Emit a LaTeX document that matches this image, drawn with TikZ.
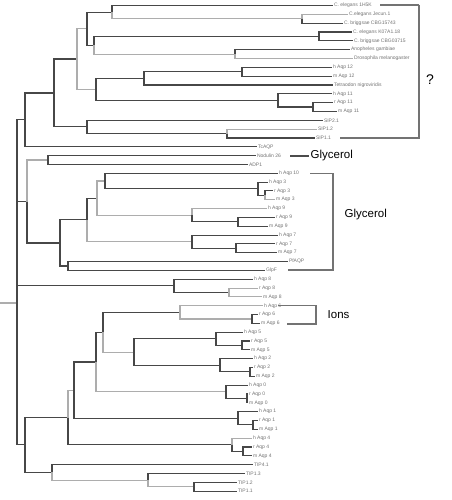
\documentclass[tikz,border=0pt]{standalone}
\usepackage{fontspec}
\setmainfont{Liberation Sans}
\begin{document}
\begin{tikzpicture}[x=1pt,y=-1pt,
  dk/.style={draw=black!72, line width=1.1pt},
  lt/.style={draw=black!32, line width=1.1pt},
  lab/.style={font=\fontsize{5}{6}\selectfont, text=black!55, anchor=west, inner sep=0.8pt},
  brk/.style={draw=black!55, line width=1.1pt},
  big/.style={font=\fontsize{11.5}{13}\selectfont, anchor=west, inner sep=1.5pt}]
\useasboundingbox (0,0) rectangle (451,500);
% leaves
\node[lab] (L1) at (333,5.5) {C. elegans 1H5K};
\node[lab] (L2) at (348,14.33) {C.elegans Jecun.1};
\node[lab] (L3) at (343,23.16) {C. briggsae CBG15743};
\node[lab] (L4) at (352,31.99) {C. elegans K07A1.18};
\node[lab] (L5) at (353,40.82) {C. briggsae CBG03715};
\node[lab] (L6) at (350,49.65) {Anopheles gambiae};
\node[lab] (L7) at (353,58.48) {Drosophila melanogaster};
\node[lab] (L8) at (332,67.31) {h Aqp 12};
\node[lab] (L9) at (332,76.14) {m Aqp 12};
\node[lab] (L10) at (333,84.97) {Tetraodon nigroviridis};
\node[lab] (L11) at (332,93.8) {h Aqp 11};
\node[lab] (L12) at (333,102.63) {r Aqp 11};
\node[lab] (L13) at (337,111.46) {m Aqp 11};
\node[lab] (L14) at (323,120.29) {SIP2.1};
\node[lab] (L15) at (317,129.12) {SIP1.2};
\node[lab] (L16) at (315,137.95) {SIP1.1};
\node[lab] (L17) at (257,146.78) {TcAQP};
\node[lab] (L18) at (256,155.61) {Nodulin 26};
\node[lab] (L19) at (248,164.44) {ADP1};
\node[lab] (L20) at (278,173.27) {h Aqp 10};
\node[lab] (L21) at (268,182.1) {h Aqp 3};
\node[lab] (L22) at (273,190.93) {r Aqp 3};
\node[lab] (L23) at (275,199.76) {m Aqp 3};
\node[lab] (L24) at (267,208.59) {h Aqp 9};
\node[lab] (L25) at (275,217.42) {r Aqp 9};
\node[lab] (L26) at (268,226.25) {m Aqp 9};
\node[lab] (L27) at (278,235.08) {h Aqp 7};
\node[lab] (L28) at (275,243.91) {r Aqp 7};
\node[lab] (L29) at (277,252.74) {m Aqp 7};
\node[lab] (L30) at (288,261.57) {PfAQP};
\node[lab] (L31) at (265,270.4) {GlpF};
\node[lab] (L32) at (253,279.23) {h Aqp 8};
\node[lab] (L33) at (258,288.06) {r Aqp 8};
\node[lab] (L34) at (262,296.89) {m Aqp 8};
\node[lab] (L35) at (263,305.72) {h Aqp 6};
\node[lab] (L36) at (258,314.55) {r Aqp 6};
\node[lab] (L37) at (260,323.38) {m Aqp 6};
\node[lab] (L38) at (243,332.21) {h Aqp 5};
\node[lab] (L39) at (250,341.04) {r Aqp 5};
\node[lab] (L40) at (250,349.87) {m Aqp 5};
\node[lab] (L41) at (253,358.7) {h Aqp 2};
\node[lab] (L42) at (253,367.53) {r Aqp 2};
\node[lab] (L43) at (255,376.36) {m Aqp 2};
\node[lab] (L44) at (248,385.19) {h Aqp 0};
\node[lab] (L45) at (248,394.02) {r Aqp 0};
\node[lab] (L46) at (248,402.85) {m Aqp 0};
\node[lab] (L47) at (258,411.68) {h Aqp 1};
\node[lab] (L48) at (258,420.51) {r Aqp 1};
\node[lab] (L49) at (258,429.34) {m Aqp 1};
\node[lab] (L50) at (252,438.17) {h Aqp 4};
\node[lab] (L51) at (252,447.0) {r Aqp 4};
\node[lab] (L52) at (252,455.83) {m Aqp 4};
\node[lab] (L53) at (253,464.66) {TIP4.1};
\node[lab] (L54) at (245,473.49) {TIP1.3};
\node[lab] (L55) at (237,482.32) {TIP1.2};
\node[lab] (L56) at (237,491.15) {TIP1.1};
% internal nodes
\coordinate (r0) at (0,303);
\coordinate (nJ) at (17,303);
\coordinate (n23) at (302,18.75);
\coordinate (nA) at (112,12.1);
\coordinate (n45) at (319,36.4);
\coordinate (n67) at (235,54.07);
\coordinate (nB) at (94,45.2);
\coordinate (nC) at (87,28.7);
\coordinate (n89) at (242,71.7);
\coordinate (nD) at (144,78.3);
\coordinate (n1213) at (313,107.05);
\coordinate (n11) at (278,100.4);
\coordinate (nE) at (96,89.4);
\coordinate (nF) at (77,59.0);
\coordinate (n1516) at (227,133.5);
\coordinate (nG) at (87,126.9);
\coordinate (nH) at (54,93.0);
\coordinate (nI) at (25,119.9);
\coordinate (n1819) at (48,160.0);
\coordinate (n2223) at (265,195.3);
\coordinate (nS) at (258,188.7);
\coordinate (nR) at (105,181.0);
\coordinate (n2526) at (238,221.8);
\coordinate (n24) at (192,215.2);
\coordinate (nQ) at (97,198.1);
\coordinate (n2829) at (236,248.3);
\coordinate (n27) at (192,241.7);
\coordinate (nO) at (87,219.9);
\coordinate (nP) at (68,266.0);
\coordinate (nN) at (60,243.0);
\coordinate (nK) at (27,201.5);
\coordinate (n3334) at (229,292.5);
\coordinate (n32) at (174,285.9);
\coordinate (n3637) at (252,319.0);
\coordinate (n35) at (180,312.3);
\coordinate (n3940) at (242,345.5);
\coordinate (n38) at (216,338.8);
\coordinate (n4243) at (250,371.9);
\coordinate (n41) at (220,365.3);
\coordinate (nZ) at (134,352.1);
\coordinate (nY) at (103,332.2);
\coordinate (n4546) at (247,398.4);
\coordinate (n44) at (226,391.8);
\coordinate (nX) at (96,362.0);
\coordinate (n4849) at (253,424.9);
\coordinate (n47) at (238,418.3);
\coordinate (nW) at (74,390.2);
\coordinate (n5152) at (243,451.4);
\coordinate (n50) at (232,444.8);
\coordinate (nU) at (68,417.5);
\coordinate (n5556) at (194,486.7);
\coordinate (nAA) at (148,480.1);
\coordinate (nV) at (52,472.4);
\coordinate (nL) at (25,444.9);
% edges
\draw[lt] (r0) -- (nJ);
\draw[dk] (nJ) |- (nI);
\draw[dk] (nJ) |- (nK);
\draw[dk] (nJ) |- (n32);
\draw[dk] (nJ) |- (nL);
\draw[dk] (nI) |- (nH);
\draw[dk] (nI) |- (L17.west);
\draw[dk] (nH) |- (nF);
\draw[dk] (nH) |- (nG);
\draw[lt] (nF) |- (nC);
\draw[lt] (nF) |- (nE);
\draw[dk] (nC) |- (nA);
\draw[dk] (nC) |- (nB);
\draw[dk] (nA) |- (L1.west);
\draw[lt] (nA) |- (n23);
\draw[lt] (n23) |- (L2.west);
\draw[dk] (n23) |- (L3.west);
\draw[dk] (nB) |- (n45);
\draw[lt] (nB) |- (n67);
\draw[dk] (n45) |- (L4.west);
\draw[dk] (n45) |- (L5.west);
\draw[dk] (n67) |- (L6.west);
\draw[lt] (n67) |- (L7.west);
\draw[dk] (nE) |- (nD);
\draw[dk] (nE) |- (n11);
\draw[dk] (nD) |- (n89);
\draw[dk] (nD) |- (L10.west);
\draw[dk] (n89) |- (L8.west);
\draw[dk] (n89) |- (L9.west);
\draw[dk] (n11) |- (L11.west);
\draw[dk] (n11) |- (n1213);
\draw[dk] (n1213) |- (L12.west);
\draw[dk] (n1213) |- (L13.west);
\draw[dk] (nG) |- (L14.west);
\draw[dk] (nG) |- (n1516);
\draw[lt] (n1516) |- (L15.west);
\draw[dk] (n1516) |- (L16.west);
\draw[lt] (nK) |- (n1819);
\draw[dk] (nK) |- (nN);
\draw[dk] (n1819) |- (L18.west);
\draw[dk] (n1819) |- (L19.west);
\draw[dk] (nN) |- (nO);
\draw[dk] (nN) |- (nP);
\draw[dk] (nO) |- (nQ);
\draw[lt] (nO) |- (n27);
\draw[lt] (nQ) |- (nR);
\draw[lt] (nQ) |- (n24);
\draw[dk] (nR) |- (L20.west);
\draw[dk] (nR) |- (nS);
\draw[dk] (nS) |- (L21.west);
\draw[dk] (nS) |- (n2223);
\draw[dk] (n2223) |- (L22.west);
\draw[lt] (n2223) |- (L23.west);
\draw[lt] (n24) |- (L24.west);
\draw[dk] (n24) |- (n2526);
\draw[dk] (n2526) |- (L25.west);
\draw[dk] (n2526) |- (L26.west);
\draw[dk] (n27) |- (L27.west);
\draw[dk] (n27) |- (n2829);
\draw[dk] (n2829) |- (L28.west);
\draw[dk] (n2829) |- (L29.west);
\draw[dk] (nP) |- (L30.west);
\draw[dk] (nP) |- (L31.west);
\draw[dk] (n32) |- (L32.west);
\draw[dk] (n32) |- (n3334);
\draw[lt] (n3334) |- (L33.west);
\draw[lt] (n3334) |- (L34.west);
\draw[dk] (nL) |- (nU);
\draw[dk] (nL) |- (nV);
\draw[lt] (nU) |- (nW);
\draw[dk] (nU) |- (n50);
\draw[dk] (nW) |- (nX);
\draw[dk] (nW) |- (n47);
\draw[dk] (nX) |- (nY);
\draw[lt] (nX) |- (n44);
\draw[dk] (nY) |- (n35);
\draw[lt] (nY) |- (nZ);
\draw[lt] (n35) |- (L35.west);
\draw[lt] (n35) |- (n3637);
\draw[dk] (n3637) |- (L36.west);
\draw[dk] (n3637) |- (L37.west);
\draw[dk] (nZ) |- (n38);
\draw[dk] (nZ) |- (n41);
\draw[dk] (n38) |- (L38.west);
\draw[dk] (n38) |- (n3940);
\draw[dk] (n3940) |- (L39.west);
\draw[dk] (n3940) |- (L40.west);
\draw[dk] (n41) |- (L41.west);
\draw[dk] (n41) |- (n4243);
\draw[dk] (n4243) |- (L42.west);
\draw[dk] (n4243) |- (L43.west);
\draw[dk] (n44) |- (L44.west);
\draw[dk] (n44) |- (n4546);
\draw[dk] (n4546) |- (L45.west);
\draw[dk] (n4546) |- (L46.west);
\draw[dk] (n47) |- (L47.west);
\draw[dk] (n47) |- (n4849);
\draw[dk] (n4849) |- (L48.west);
\draw[dk] (n4849) |- (L49.west);
\draw[lt] (n50) |- (L50.west);
\draw[dk] (n50) |- (n5152);
\draw[dk] (n5152) |- (L51.west);
\draw[dk] (n5152) |- (L52.west);
\draw[dk] (nV) |- (L53.west);
\draw[lt] (nV) |- (nAA);
\draw[dk] (nAA) |- (L54.west);
\draw[lt] (nAA) |- (n5556);
\draw[dk] (n5556) |- (L55.west);
\draw[dk] (n5556) |- (L56.west);
% brackets and group labels
\coordinate (qa) at (380,5);
\coordinate (qb) at (419,5);
\coordinate (qc) at (419,138);
\coordinate (qd) at (340,138);
\draw[brk, line width=1.8pt] (qa) -- (qb);
\draw[brk] (qb) -- (qc) -- (qd);
\node[font=\fontsize{14}{16}\selectfont, inner sep=0pt] (qm) at (430,80) {?};
\coordinate (g1a) at (290,156);
\node[big] (gly1) at (309,156) {Glycerol};
\draw[draw=black!70, line width=1.4pt] (g1a) -- (gly1.west);
\coordinate (ga) at (310,173.3);
\coordinate (gb) at (333,173.3);
\coordinate (gc) at (333,270);
\coordinate (gd) at (288,270);
\draw[brk] (ga) -- (gb) -- (gc) -- (gd);
\node[big] (gly2) at (343,215) {Glycerol};
\coordinate (ia) at (278,305.7);
\coordinate (ib) at (316,305.7);
\coordinate (ic) at (316,324);
\coordinate (id) at (287,324);
\draw[brk] (ia) -- (ib) -- (ic) -- (id);
\node[big] (ions) at (326,315) {Ions};
\end{tikzpicture}
\end{document}
